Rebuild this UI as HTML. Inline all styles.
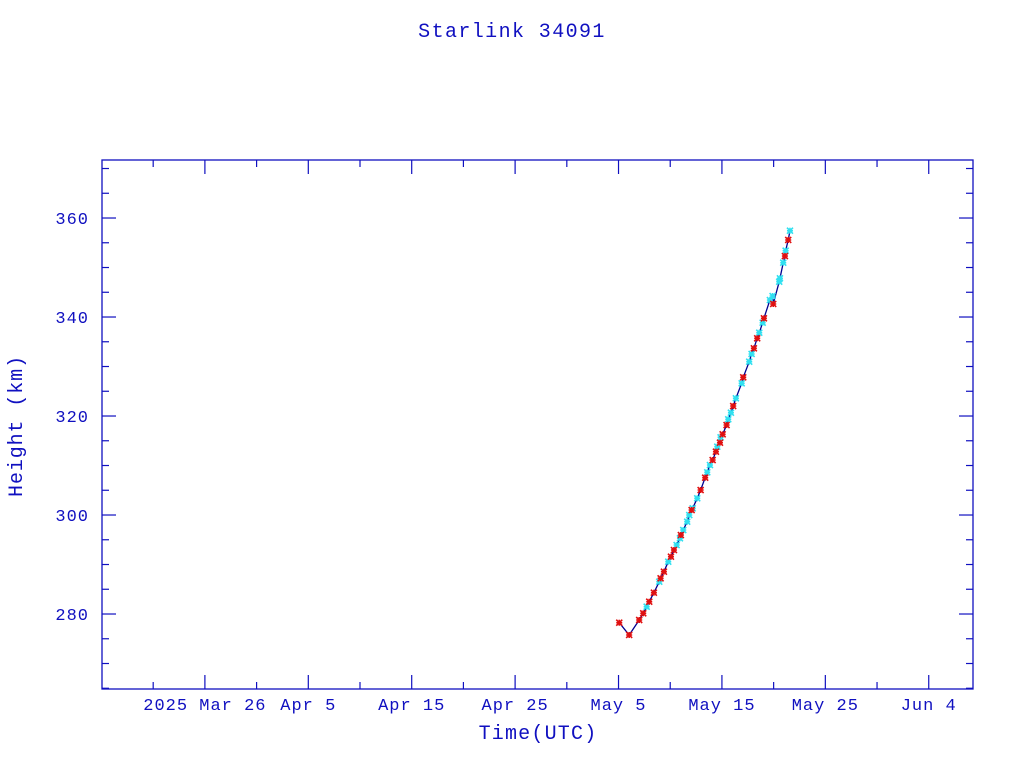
<!DOCTYPE html>
<html><head><meta charset="utf-8"><style>
body{margin:0;background:#fff;}
svg text{font-family:"Liberation Mono",monospace;fill:#1010c0;}
</style></head><body>
<svg id="chart" width="1024" height="768" xmlns="http://www.w3.org/2000/svg">
<text x="512" y="37" font-size="20" text-anchor="middle" letter-spacing="1.4">Starlink 34091</text>
<rect x="102" y="160" width="871" height="529" fill="none" stroke="#1010c0" stroke-width="1.3"/>
<g id="axes"></g>
<g id="series"></g>
<text x="538" y="739" font-size="20" text-anchor="middle" letter-spacing="1.2">Time(UTC)</text>
<text transform="translate(22,426) rotate(-90)" font-size="20" text-anchor="middle" letter-spacing="0.9">Height (km)</text>
</svg>
<script>
// days since 2025 Mar 26
const xTickDays=[0,10,20,30,40,50,60,70];
const xTickLabels=["2025 Mar 26","Apr  5","Apr 15","Apr 25","May  5","May 15","May 25","Jun  4"];
const yTickValues=[280,300,320,340,360];
const redDays=[40.07,41.03,42.00,42.39,42.97,43.42,44.07,44.39,45.07,45.36,46.03,47.07,47.94,48.38,49.10,49.42,49.81,50.07,50.45,51.09,52.06,53.09,53.41,54.06,54.96,56.09,56.41];
const redHeights=[278.24,275.76,278.79,280.14,282.48,284.30,287.21,288.55,291.58,292.93,295.96,301.01,305.05,307.54,311.11,312.79,314.61,316.30,318.18,322.02,327.82,333.68,335.70,339.74,342.63,352.32,355.56];
const cyanDays=[42.72,43.94,44.81,45.62,45.94,46.26,46.64,46.84,47.17,47.61,48.58,48.84,49.55,49.87,50.61,50.87,51.35,51.91,52.64,52.87,53.61,53.94,54.64,54.90,55.54,55.61,55.93,56.16,56.58];
const cyanHeights=[281.47,286.53,290.57,293.94,295.29,296.97,298.65,300.00,301.35,303.37,308.63,310.10,313.80,315.70,319.33,320.67,323.58,326.61,330.97,332.53,336.83,338.85,343.43,344.24,347.13,347.82,350.97,353.39,357.43];

const X0=102,X1=973,Y0=689,Y1=160;
const dMin=-9.95,dMax=74.28,hMin=264.85,hMax=371.72;
function xs(d){return X0+(d-dMin)/(dMax-dMin)*(X1-X0);}
function ys(h){return Y0-(h-hMin)/(hMax-hMin)*(Y0-Y1);}
const NS="http://www.w3.org/2000/svg";
function mk(tag,attrs,parent){const e=document.createElementNS(NS,tag);for(const k in attrs)e.setAttribute(k,attrs[k]);parent.appendChild(e);return e;}
const ax=document.getElementById('axes'),se=document.getElementById('series');
const C="#1010c0";
for(let d=-5;d<=dMax;d+=5){
  const major=(d%10===0);const len=major?14:7;const x=xs(d);
  const t1=mk('line',{x1:x,x2:x,y1:Y0,y2:Y0-len,stroke:C,'stroke-width':1.2},ax);
  
  
  const t2=mk('line',{x1:x,x2:x,y1:Y1,y2:Y1+len,stroke:C,'stroke-width':1.2},ax);
  
  
}
xTickDays.forEach((d,i)=>{
  const t=mk('text',{x:xs(d),y:710,'font-size':17,'text-anchor':'middle','xml:space':'preserve','letter-spacing':'1'},ax);
  
  
  t.textContent=xTickLabels[i];
});
for(let h=265;h<=hMax;h+=5){
  const major=(h%20===0);const len=major?14:7;const y=ys(h);
  const t1=mk('line',{x1:X0,x2:X0+len,y1:y,y2:y,stroke:C,'stroke-width':1.2},ax);
  
  
  const t2=mk('line',{x1:X1,x2:X1-len,y1:y,y2:y,stroke:C,'stroke-width':1.2},ax);
  
  
}
yTickValues.forEach(v=>{
  const t=mk('text',{x:89,y:ys(v)+6,'font-size':17,'text-anchor':'end','letter-spacing':'1'},ax);
  
  
  t.textContent=v;
});
const all=[];
redDays.forEach((d,i)=>all.push([d,redHeights[i]]));
cyanDays.forEach((d,i)=>all.push([d,cyanHeights[i]]));
all.sort((a,b)=>a[0]-b[0]);
const pl=mk('polyline',{points:all.map(p=>xs(p[0])+','+ys(p[1])).join(' '),fill:'none',stroke:'#000090','stroke-width':1.3},se);


function star(d,h,col,name){
  const x=xs(d),y=ys(h),r=3;
  const g=mk('g',{stroke:col,'stroke-width':1.6},se);
  
  
  mk('line',{x1:x-r,x2:x+r,y1:y,y2:y},g);
  mk('line',{x1:x,x2:x,y1:y-r,y2:y+r},g);
  mk('line',{x1:x-r,x2:x+r,y1:y-r,y2:y+r},g);
  mk('line',{x1:x-r,x2:x+r,y1:y+r,y2:y-r},g);
}
cyanDays.forEach((d,i)=>star(d,cyanHeights[i],'#30e0f0','cyan-point'));
redDays.forEach((d,i)=>star(d,redHeights[i],'#e01010','red-point'));
</script>
</body></html>
